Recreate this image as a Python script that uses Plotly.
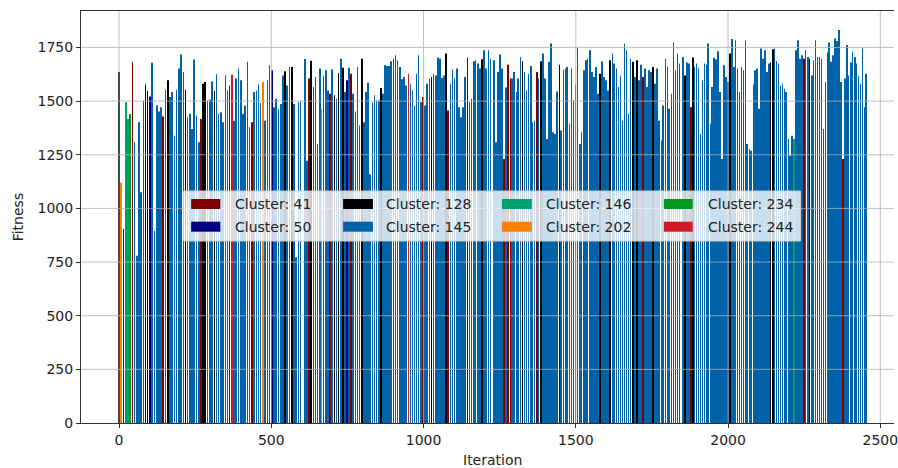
import numpy as np
import plotly.graph_objects as go

# ---------------- data ----------------
cluster_ids = [41, 50, 128, 145, 146, 202, 234, 244]
cluster_colors = ["#800000", "#000080", "#000000", "#0062a9",
                  "#00a06e", "#ff8000", "#00981f", "#d21a26"]
default_cluster = 145

# segment A: iterations 0 .. 596
seg_a_iter = (0, 596)
seg_a_fitness = [1636, 1120, 905, 1495, 1417, 1440, 1683, 1308, 780, 1402,
                 1075, 1503, 1577, 1547, 1522, 1680, 895, 1480, 1452, 1472,
                 1428, 1555, 1597, 1519, 1542, 1339, 1553, 1652, 1717, 1636,
                 1553, 1425, 1441, 1370, 1694, 1433, 1308, 1417, 1581, 1589,
                 1503, 1508, 1592, 1547, 1625, 1441, 1448, 1402, 1620, 1550,
                 1573, 1623, 1409, 1605, 1652, 1597, 1441, 1480, 1683, 1378,
                 1402, 1542, 1550, 1578, 1491, 1589, 1409, 1597, 1667, 1644,
                 1472, 1511, 1464, 1487, 1620, 1639, 1573, 1659, 1659, 1487,
                 773, 1495, 1500]
seg_a_clusters = {0: 128, 1: 202, 2: 41, 3: 146, 4: 146, 5: 234, 6: 41,
                  12: 50, 13: 128, 14: 50, 20: 41, 22: 128, 30: 128, 37: 41,
                  38: 128, 39: 128, 43: 128, 50: 41, 51: 244, 60: 41, 65: 202,
                  69: 50, 75: 128, 78: 128}

# segment B: iterations 610 .. 1220
seg_b_iter = (610, 1220)
seg_b_fitness = [1698, 1222, 1605, 1688, 1566, 1613, 1300, 1652, 1464, 1620,
                 1644, 1550, 1534, 1647, 1527, 1511, 1631, 1698, 1655, 1542,
                 1597, 1655, 1628, 1534, 1452, 1659, 1386, 1698, 1402, 1542,
                 1586, 1159, 1492, 1527, 1503, 1503, 1561, 1534, 1667, 1664,
                 1664, 1686, 1698, 1714, 1691, 1659, 1602, 1613, 1573, 1628,
                 1581, 1550, 1480, 1628, 1714, 1495, 1519, 1480, 1581, 1605,
                 1613, 1628, 1620, 1703, 1698, 1608, 1620, 1722, 1456, 1581,
                 1647, 1605, 1652, 1472, 1425, 1472, 1613, 1703, 1495, 1511,
                 1686, 1691, 1675, 1652, 1695, 1737, 1652, 1737, 1698]
seg_b_clusters = {2: 41, 3: 128, 8: 202, 12: 41, 14: 128, 16: 128, 18: 128,
                  20: 50, 22: 41, 27: 128, 36: 128, 49: 244, 56: 41, 60: 128,
                  67: 128, 68: 41, 77: 41, 84: 128}

# segment C: iterations 1231 .. 1841
seg_c_iter = (1231, 1841)
seg_c_fitness = [1691, 1308, 1636, 1717, 1652, 1230, 1563, 1670, 1605, 1605,
                 1636, 1542, 1605, 1706, 1686, 1636, 1550, 1628, 1664, 1402,
                 1409, 1636, 1605, 1686, 1722, 1605, 1323, 1683, 1769, 1355,
                 1347, 1545, 1670, 1363, 1647, 1652, 1659, 1394, 1652, 1503,
                 1577, 1748, 1300, 1355, 1644, 1691, 1698, 1737, 1636, 1613,
                 1659, 1534, 1628, 1686, 1613, 1597, 1550, 1691, 1722, 1675,
                 1652, 1566, 1620, 1409, 1769, 1737, 1441, 1698, 1683, 1613,
                 1691, 1597, 1670, 1613, 1652, 1566, 1644, 1636, 1659, 1581,
                 1652, 1409, 1316, 1480, 1698, 1659, 1464, 1534, 1773, 1644,
                 1722, 1675]
seg_c_clusters = {5: 41, 7: 41, 8: 41, 14: 128, 21: 41, 23: 128, 32: 50,
                  52: 128, 57: 128, 68: 128, 70: 128, 73: 41, 78: 128}

# segment D: iterations 1852 .. 2454
seg_d_iter = (1852, 2454)
seg_d_fitness = [1706, 1620, 1680, 1675, 1472, 1703, 1659, 1675, 1655, 1347,
                 1597, 1675, 1670, 1769, 1394, 1566, 1702, 1694, 1733, 1542,
                 1230, 1667, 1613, 1589, 1722, 1789, 1659, 1784, 1652, 1542,
                 1659, 1644, 1784, 1300, 1277, 1269, 1577, 1644, 1652, 1464,
                 1745, 1698, 1737, 1636, 1675, 1680, 1742, 1745, 1686, 1675,
                 1573, 1581, 1558, 1542, 1323, 1245, 1339, 1323, 1737, 1784,
                 1698, 1714, 1698, 1737, 1706, 1698, 1620, 1691, 1784, 1706,
                 1706, 1698, 1370, 1589, 1727, 1773, 1683, 1714, 1792, 1780,
                 1831, 1589, 1230, 1605, 1761, 1620, 1680, 1730, 1706, 1675,
                 1617, 1581, 1745, 1472, 1628]
seg_d_clusters = {1: 128, 4: 41, 5: 128, 24: 128, 45: 128, 46: 128, 57: 146,
                  62: 41, 65: 128, 82: 41}

x_ticks = [0, 500, 1000, 1500, 2000, 2500]
y_ticks = [0, 250, 500, 750, 1000, 1250, 1500, 1750]

# ---------------- build per-cluster series ----------------
segments = [(seg_a_iter, seg_a_fitness, seg_a_clusters),
            (seg_b_iter, seg_b_fitness, seg_b_clusters),
            (seg_c_iter, seg_c_fitness, seg_c_clusters),
            (seg_d_iter, seg_d_fitness, seg_d_clusters)]

iterations, fitness, clusters = [], [], []
for (start, end), vals, marks in segments:
    its = np.round(np.linspace(start, end, len(vals))).astype(int)
    for i, (it, v) in enumerate(zip(its, vals)):
        iterations.append(int(it))
        fitness.append(v)
        clusters.append(marks.get(i, default_cluster))

fig = go.Figure()
# draw the dominant cluster first so the others stay visible on top
order = [145] + [c for c in cluster_ids if c != 145]
for cid in order:
    col = cluster_colors[cluster_ids.index(cid)]
    xs = [x for x, c in zip(iterations, clusters) if c == cid]
    ys = [y for y, c in zip(fitness, clusters) if c == cid]
    fig.add_trace(go.Bar(x=xs, y=ys, width=2.0, name=f"Cluster: {cid}",
                         marker=dict(color=col, line=dict(width=0)),
                         showlegend=False))

FONT = "DejaVu Sans"
TXT = "#222222"
GRID = "#b0b0b0"

shapes = []
for xv in x_ticks:
    shapes.append(dict(type="line", xref="x", yref="paper", x0=xv, x1=xv, y0=0, y1=1,
                       line=dict(color=GRID, width=0.8), layer="above"))
for yv in y_ticks[1:]:
    shapes.append(dict(type="line", xref="paper", yref="y", x0=0, x1=1, y0=yv, y1=yv,
                       line=dict(color=GRID, width=0.8), layer="above"))

# legend (matplotlib style, 4 columns x 2 rows)
shapes.append(dict(type="rect", xref="paper", yref="paper", x0=0.1261, x1=0.8850,
                   y0=0.4417, y1=0.5631, fillcolor="rgba(255,255,255,0.8)",
                   line=dict(color="#cccccc", width=1), layer="above"))
legend_cols = [(0.1355, 0.1714, 0.1864), (0.3224, 0.3591, 0.3721),
               (0.5177, 0.5545, 0.5700), (0.7169, 0.7524, 0.7687)]
legend_rows = [(0.5194, 0.5437, 0.5316), (0.4643, 0.4886, 0.4757)]
annotations = []
for k, cid in enumerate(cluster_ids):
    ci, ri = k // 2, k % 2
    sx0, sx1, tx = legend_cols[ci]
    sy0, sy1, ty = legend_rows[ri]
    shapes.append(dict(type="rect", xref="paper", yref="paper", x0=sx0, x1=sx1,
                       y0=sy0, y1=sy1, fillcolor=cluster_colors[k],
                       line=dict(width=0), layer="above"))
    annotations.append(dict(xref="paper", yref="paper", x=tx, y=ty, xanchor="left",
                            yanchor="middle", showarrow=False, text=f"Cluster: {cid}",
                            font=dict(family=FONT, size=14, color=TXT)))

annotations.append(dict(xref="paper", yref="paper", x=0.506, y=-0.0898,
                        xanchor="center", yanchor="middle", showarrow=False,
                        text="Iteration", font=dict(family=FONT, size=14, color=TXT)))
annotations.append(dict(xref="paper", yref="paper", x=-0.0771, y=0.5,
                        xanchor="center", yanchor="middle", showarrow=False,
                        textangle=-90, text="Fitness",
                        font=dict(family=FONT, size=14, color=TXT)))

fig.update_layout(
    width=898, height=468,
    margin=dict(l=81, r=0, t=11, b=45),
    paper_bgcolor="white", plot_bgcolor="white",
    barmode="overlay",
    font=dict(family=FONT, size=14, color=TXT),
    shapes=shapes, annotations=annotations,
    showlegend=False,
)
fig.update_xaxes(range=[-125, 2545], tickvals=x_ticks, showgrid=False, zeroline=False,
                 ticks="outside", ticklen=4, tickwidth=1, tickcolor="#333333",
                 showline=True, linecolor="#333333", linewidth=1, mirror=True,
                 ticklabeloverflow="allow",
                 layer="above traces", tickfont=dict(family=FONT, size=14, color=TXT))
fig.update_yaxes(range=[0, 1920], tickvals=y_ticks, showgrid=False, zeroline=False,
                 ticks="outside", ticklen=4, tickwidth=1, tickcolor="#333333",
                 showline=True, linecolor="#333333", linewidth=1, mirror=False,
                 layer="above traces", tickfont=dict(family=FONT, size=14, color=TXT))

fig.write_html("out.html", config={"displayModeBar": False},
               post_script="document.body.style.margin='0';")
